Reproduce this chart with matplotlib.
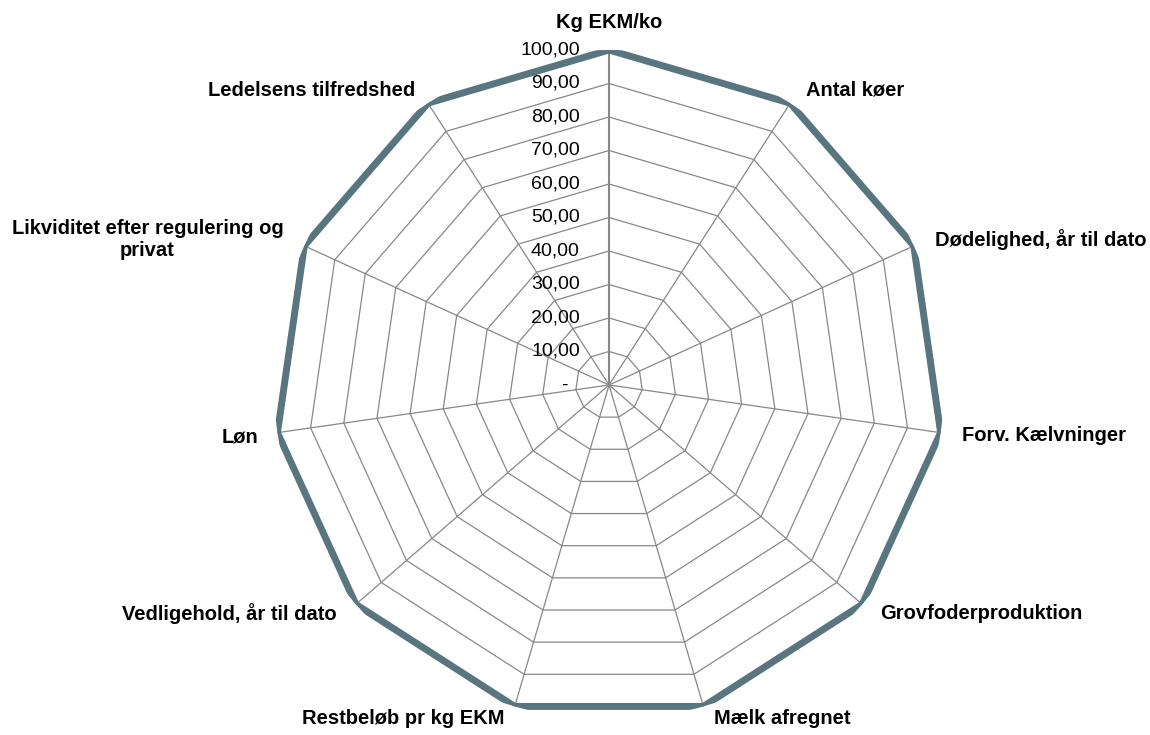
import numpy as np
import matplotlib
matplotlib.use("Agg")
import matplotlib.pyplot as plt

plt.rcParams['font.family'] = ['Liberation Sans', 'DejaVu Sans']

# Data
categories = [
    "Kg EKM/ko", "Antal køer", "Dødelighed, år til dato", "Forv. Kælvninger",
    "Grovfoderproduktion", "Mælk afregnet", "Restbeløb pr kg EKM",
    "Vedligehold, år til dato", "Løn", "Likviditet efter regulering og\nprivat",
    "Ledelsens tilfredshed",
]
values = [100, 100, 100, 100, 100, 100, 100, 100, 100, 100, 100]
ticks = [0, 10, 20, 30, 40, 50, 60, 70, 80, 90, 100]
tick_labels = ["-", "10,00", "20,00", "30,00", "40,00", "50,00",
               "60,00", "70,00", "80,00", "90,00", "100,00"]

n = len(categories)
angles = np.arange(n) * 2 * np.pi / n
closed = np.append(angles, angles[0])

fig = plt.figure(figsize=(11.5, 7.35), dpi=100)
ax = fig.add_axes([0.2383, 0.0204, 0.5826, 0.9116], projection="polar")
ax.set_theta_offset(np.pi / 2)
ax.set_theta_direction(-1)
ax.set_ylim(0, 100)
ax.grid(False)
ax.spines["polar"].set_visible(False)
ax.set_xticks([])
ax.set_yticks([])
ax.patch.set_visible(False)

grid_col = "#888888"
# polygon rings
for t in ticks[1:]:
    ax.plot(closed, [t] * (n + 1), color=grid_col, lw=0.9, zorder=1)
# spokes
for i, a in enumerate(angles):
    ax.plot([a, a], [0, 100], color=grid_col, lw=1.5 if i == 0 else 0.9, zorder=1)

# data series
ax.plot(closed, values + values[:1], color="#587580", lw=5, zorder=3,
        solid_joinstyle="miter")

# value axis labels
for t, lab in zip(ticks, tick_labels):
    off = -21 if t > 0 else -30
    ax.annotate(lab, xy=(0, t), xytext=(off, 0), textcoords="offset points",
                ha="right", va="center", fontsize=14, color="black")

# category labels (offsets in pixels)
offsets = [(0, 27), (16, 13), (21, 6), (21, -3), (18, -9), (11, -12),
           (-10, -12), (-19, -9), (-19, -4), (-21, 6), (-13, 13)]
for i, (a, cat) in enumerate(zip(angles, categories)):
    dx, dy = offsets[i]
    if i == 0:
        ha = "center"
    elif np.sin(a) > 0:
        ha = "left"
    else:
        ha = "right"
    ax.annotate(cat, xy=(a, values[i]), xytext=(dx * 0.72, dy * 0.72),
                textcoords="offset points", ha=ha, va="center",
                multialignment="center", fontsize=14.5, fontweight="bold",
                annotation_clip=False)

fig.savefig("out.png", dpi=100)
